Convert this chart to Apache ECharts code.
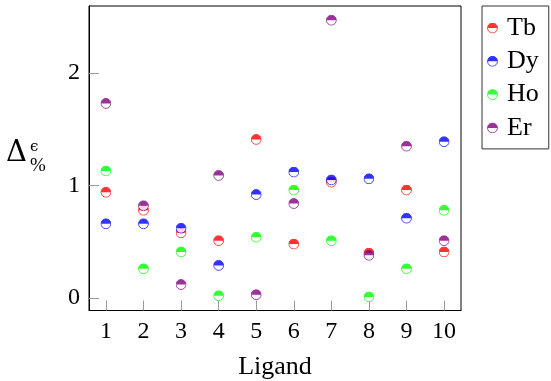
<!DOCTYPE html>
<html>
<head>
<meta charset="utf-8">
<script src="https://cdn.jsdelivr.net/npm/echarts@6/dist/echarts.min.js"></script>
<style>
  html, body { margin: 0; padding: 0; background: #fff; }
  #chart { width: 551px; height: 381px; }
</style>
</head>
<body>
<div id="chart"></div>
<script>
// ligand index on the x axis
const ligands = [1, 2, 3, 4, 5, 6, 7, 8, 9, 10];
const yTicks = [0, 1, 2];

// Δ% per element
const tb = [0.94, 0.78, 0.58, 0.51, 1.41, 0.48, 1.03, 0.40, 0.96, 0.41];
const dy = [0.66, 0.66, 0.62, 0.29, 0.92, 1.12, 1.05, 1.06, 0.71, 1.39];
const ho = [1.13, 0.26, 0.41, 0.02, 0.54, 0.96, 0.51, 0.01, 0.26, 0.78];
const er = [1.73, 0.82, 0.12, 1.09, 0.03, 0.84, 2.47, 0.38, 1.35, 0.51];

const names = ['Tb', 'Dy', 'Ho', 'Er'];
const colors = ['#ff0000', '#0000ff', '#00ff00', '#800080'];
const values = [tb, dy, ho, er];

const FONT = '"Liberation Serif", "DejaVu Serif", serif';
const MATH = '"DejaVu Serif", serif';

// half-filled circle (top half coloured), like pgfplots halfcircle*
const halfCircle = (c) => {
  const svg = `<svg xmlns='http://www.w3.org/2000/svg' width='24' height='24' viewBox='0 0 24 24'>` +
    `<circle cx='12' cy='12' r='10.8' fill='white' stroke='${c}' stroke-width='2'/>` +
    `<path d='M1.2,12 A10.8,10.8 0 0 1 22.8,12 Z' fill='${c}'/></svg>`;
  return 'image://data:image/svg+xml;charset=utf-8,' + encodeURIComponent(svg);
};

const chart = echarts.init(document.getElementById('chart'), null, { renderer: 'canvas' });

const option = {
  animation: false,
  textStyle: { fontFamily: FONT, color: '#000' },
  grid: {
    left: 89,
    right: 90,
    top: 6,
    bottom: 70.5,
    show: true,
    borderColor: '#000',
    borderWidth: 1,
    containLabel: false,
    outerBoundsMode: 'none'
  },
  xAxis: {
    type: 'value',
    min: 0.55,
    max: 10.45,
    name: 'Ligand',
    nameLocation: 'middle',
    nameGap: 44,
    nameTextStyle: { fontFamily: FONT, fontSize: 26, color: '#000' },
    axisLine: { show: true, onZero: false, lineStyle: { color: '#000', width: 1 } },
    axisTick: {
      show: true,
      inside: true,
      length: 10,
      customValues: ligands,
      lineStyle: { color: '#999', width: 1 }
    },
    axisLabel: {
      customValues: ligands,
      margin: 9,
      fontFamily: FONT,
      fontSize: 24,
      color: '#000'
    },
    splitLine: { show: false }
  },
  yAxis: {
    type: 'value',
    min: -0.111,
    max: 2.596,
    axisLine: { show: true, onZero: false, lineStyle: { color: '#000', width: 1 } },
    axisTick: {
      show: true,
      inside: true,
      length: 10,
      customValues: yTicks,
      lineStyle: { color: '#999', width: 1 }
    },
    axisLabel: {
      customValues: yTicks,
      margin: 9,
      fontFamily: FONT,
      fontSize: 24,
      color: '#000'
    },
    splitLine: { show: false }
  },
  legend: {
    orient: 'vertical',
    left: 482,
    top: 6,
    padding: [9, 10, 8, 5],
    itemGap: 7.3,
    itemWidth: 11,
    itemHeight: 11,
    borderColor: '#333',
    borderWidth: 1,
    borderRadius: 0,
    textStyle: { fontFamily: FONT, fontSize: 26, color: '#000', lineHeight: 26, padding: [0, 0, 0, 4] },
    data: names.map((n, i) => ({ name: n, icon: halfCircle(colors[i]) }))
  },
  graphic: [
    {
      type: 'text',
      left: 6,
      top: 139,
      style: { text: 'Δ', font: '29px ' + MATH, fill: '#000' }
    },
    {
      type: 'text',
      left: 30,
      top: 140,
      style: { text: 'ϵ', font: '15px ' + MATH, fill: '#000' }
    },
    {
      type: 'text',
      left: 30,
      top: 157,
      style: { text: '%', font: '19px ' + FONT, fill: '#000' }
    }
  ],
  series: names.map((n, i) => ({
    name: n,
    type: 'scatter',
    symbol: halfCircle(colors[i]),
    symbolSize: 11,
    itemStyle: { color: colors[i] },
    data: ligands.map((x, j) => [x, values[i][j]])
  }))
};

chart.setOption(option);
</script>
</body>
</html>
